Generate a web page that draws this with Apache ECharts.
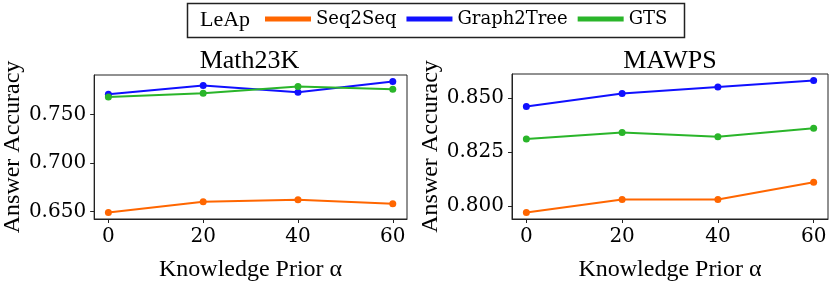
<!DOCTYPE html>
<html>
<head>
<meta charset="utf-8">
<style>
html,body{margin:0;padding:0;background:#fff;}
#chart{width:831px;height:287px;}
</style>
<script src="https://cdn.jsdelivr.net/npm/echarts@6/dist/echarts.min.js"></script>
</head>
<body>
<div id="chart"></div>
<script>
const xTicks = [0, 20, 40, 60];
const seriesNames = ['Seq2Seq', 'Graph2Tree', 'GTS'];
const colors = ['#ff6600', '#1010ff', '#2ab52a'];
const panelTitles = ['Math23K', 'MAWPS'];

// Math23K
const mathSeq2Seq = [0.649, 0.660, 0.662, 0.658];
const mathGraph2Tree = [0.771, 0.780, 0.773, 0.784];
const mathGTS = [0.768, 0.772, 0.779, 0.776];
const mathYTicks = [0.650, 0.700, 0.750];

// MAWPS
const mawpsSeq2Seq = [0.797, 0.803, 0.803, 0.811];
const mawpsGraph2Tree = [0.846, 0.852, 0.855, 0.858];
const mawpsGTS = [0.831, 0.834, 0.832, 0.836];
const mawpsYTicks = [0.800, 0.825, 0.850];

const FONT = 'Liberation Serif';
const LABEL_FONT = 'DejaVu Serif';
const panels = [
  {data: [mathSeq2Seq, mathGraph2Tree, mathGTS], yTicks: mathYTicks, grid: {left: 92, top: 75, width: 315, height: 153}, nameGap: 69},
  {data: [mawpsSeq2Seq, mawpsGraph2Tree, mawpsGTS], yTicks: mawpsYTicks, grid: {left: 512, top: 74, width: 316, height: 154}, nameGap: 67}
];

function padRange(arrs) {
  const all = [].concat(...arrs);
  const mn = Math.min(...all), mx = Math.max(...all);
  const m = (mx - mn) * 0.05;
  return [mn - m, mx + m];
}

const grids = [], xAxes = [], yAxes = [], series = [], titles = [];
panels.forEach((p, i) => {
  grids.push(Object.assign({show: true, borderColor: '#222', borderWidth: 1, backgroundColor: 'transparent'}, p.grid));
  const [ymin, ymax] = padRange(p.data);
  const lab = {fontFamily: LABEL_FONT, fontSize: 20, color: '#000'};
  xAxes.push({
    type: 'value', gridIndex: i, min: -3, max: 63,
    name: 'Knowledge Prior α', nameLocation: 'middle', nameGap: 39,
    nameTextStyle: {fontFamily: FONT, fontSize: 24, color: '#000'},
    axisLine: {show: true, onZero: false, lineStyle: {color: '#222', width: 1}},
    axisTick: {show: true, length: 4, inside: false, customValues: xTicks, lineStyle: {color: '#222'}},
    axisLabel: Object.assign({show: true, customValues: xTicks, margin: 8}, lab),
    splitLine: {show: false}
  });
  yAxes.push({
    type: 'value', gridIndex: i, min: ymin, max: ymax,
    name: 'Answer Accuracy', nameLocation: 'middle', nameGap: p.nameGap, nameRotate: 90,
    nameTextStyle: {fontFamily: FONT, fontSize: 24, color: '#000'},
    axisLine: {show: true, onZero: false, lineStyle: {color: '#222', width: 1}},
    axisTick: {show: true, length: 4, inside: false, customValues: p.yTicks, lineStyle: {color: '#222'}},
    axisLabel: Object.assign({show: true, customValues: p.yTicks, margin: 8, formatter: v => v.toFixed(3)}, lab),
    splitLine: {show: false}
  });
  titles.push({
    text: panelTitles[i], left: p.grid.left + p.grid.width / 2, top: 48, textAlign: 'center', padding: 0,
    textStyle: {fontFamily: FONT, fontSize: 26, fontWeight: 'normal', color: '#000'}
  });
  p.data.forEach((vals, k) => {
    series.push({
      name: seriesNames[k], type: 'line', xAxisIndex: i, yAxisIndex: i,
      data: vals.map((v, j) => [xTicks[j], v]),
      color: colors[k], symbol: 'circle', symbolSize: 7, showSymbol: true,
      lineStyle: {width: 2, color: colors[k]}, itemStyle: {color: colors[k]},
      animation: false
    });
  });
});

const chart = echarts.init(document.getElementById('chart'), null, {renderer: 'canvas'});
chart.setOption({
  animation: false,
  backgroundColor: '#fff',
  title: titles,
  grid: grids,
  xAxis: xAxes,
  yAxis: yAxes,
  legend: {
    data: seriesNames.map(n => ({name: n, icon: 'rect', textStyle: {fontFamily: LABEL_FONT, fontSize: 18, color: '#000'}})),
    left: 265, top: 10, itemWidth: 46, itemHeight: 5, itemGap: 10, padding: 0,
    textStyle: {fontFamily: LABEL_FONT, fontSize: 18, color: '#000', fontWeight: 'normal'},
    selectedMode: false
  },
  graphic: [
    {type: 'rect', shape: {x: 187.5, y: 3.5, width: 497, height: 34}, style: {fill: 'none', stroke: '#222', lineWidth: 1.5}},
    {type: 'text', left: 200, top: 9, style: {text: 'LeAp', font: '22px "Liberation Serif"', fill: '#000'}}
  ],
  series: series
});
</script>
</body>
</html>
